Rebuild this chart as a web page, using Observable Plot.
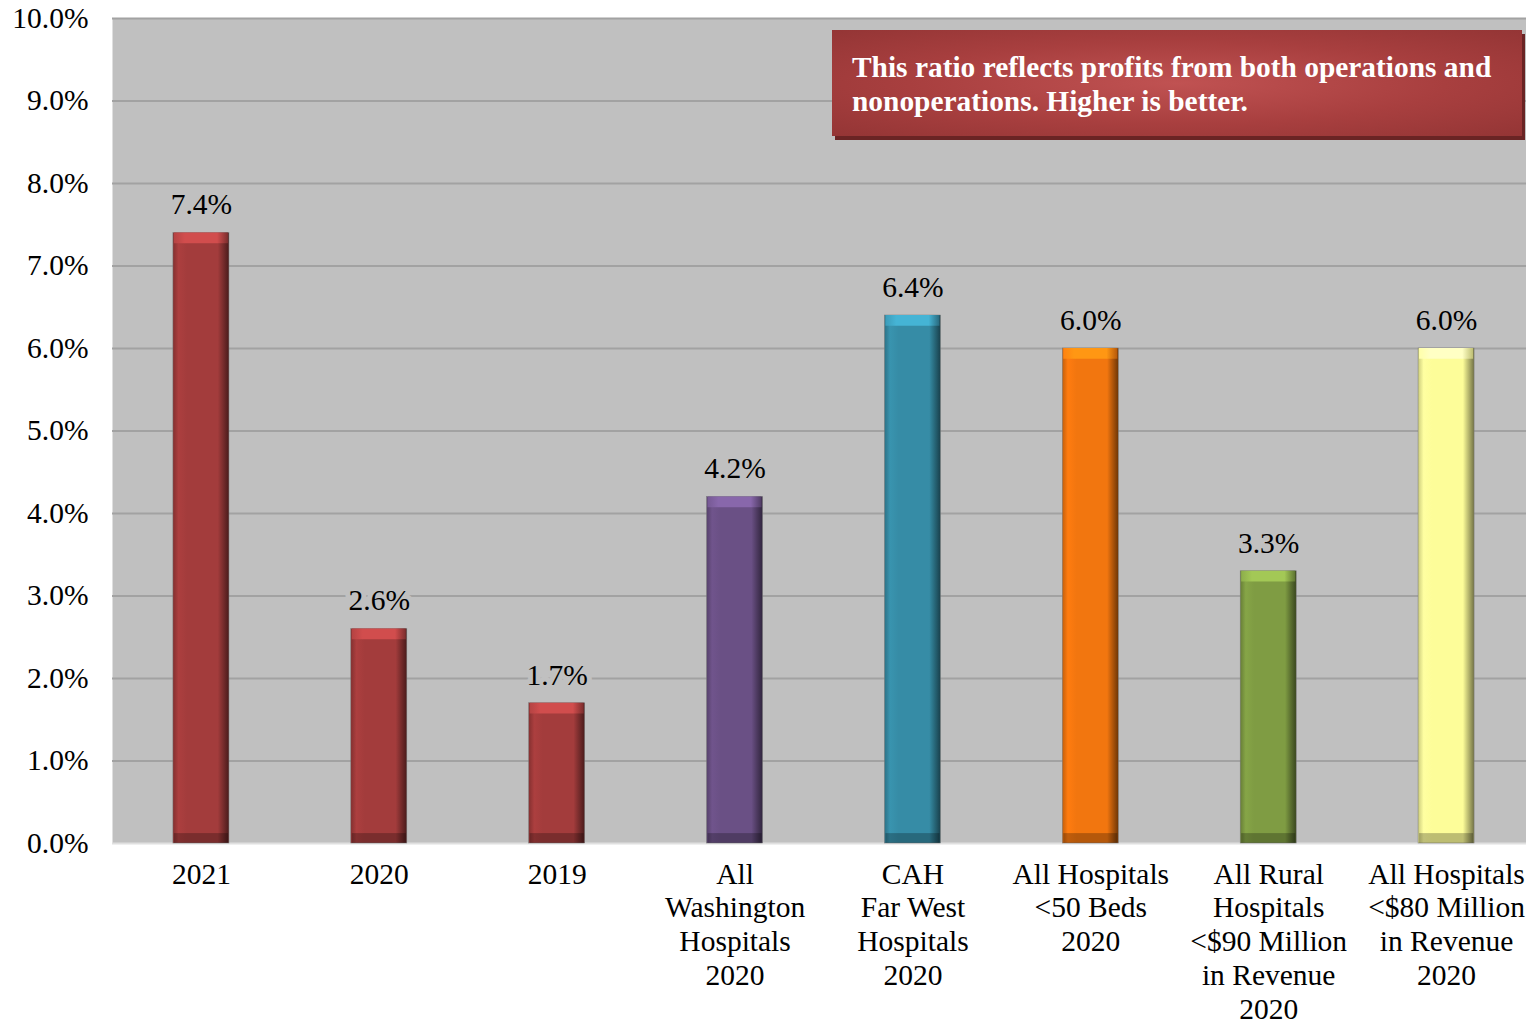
<!DOCTYPE html>
<html>
<head>
<meta charset="utf-8">
<script src="https://cdn.jsdelivr.net/npm/d3@7"></script>
<script src="https://cdn.jsdelivr.net/npm/@observablehq/plot@0.6"></script>
<style>
  html, body { margin: 0; padding: 0; background: #fff; }
  #wrap { position: relative; width: 1526px; height: 1024px; overflow: hidden; }
  #note {
    position: absolute; left: 832px; top: 30px; width: 690px; height: 106px;
    box-sizing: border-box; padding: 20px 0 0 20px;
    background: radial-gradient(ellipse at 50% 50%, #c05252 0%, #a83f3f 55%, #943535 100%);
    box-shadow: 3px 4px 0 #6a2424;
    color: #fff; font-family: "Liberation Serif", "Times New Roman", serif;
    font-weight: bold; font-size: 29.4px; line-height: 34px;
  }
</style>
</head>
<body>
<div id="wrap"></div>
<script>
const categories = [
  "2021", "2020", "2019",
  "All\nWashington\nHospitals\n2020",
  "CAH\nFar West\nHospitals\n2020",
  "All Hospitals\n<50 Beds\n2020",
  "All Rural\nHospitals\n<$90 Million\nin Revenue\n2020",
  "All Hospitals\n<$80 Million\nin Revenue\n2020"
];
const values = [0.074, 0.026, 0.017, 0.042, 0.064, 0.060, 0.033, 0.060];
const colors = ["#a33c3c", "#a33c3c", "#a33c3c", "#6a5085", "#368ca6", "#f2760f", "#7f9c43", "#fdfd99"];
const yTicks = [0, 0.01, 0.02, 0.03, 0.04, 0.05, 0.06, 0.07, 0.08, 0.09, 0.10];
const noteText = "This ratio reflects profits from both operations and nonoperations. Higher is better.";

const data = categories.map((c, i) => ({cat: c, value: values[i], color: colors[i], i}));
const pct = d3.format(".1%");
const FS = 29.5;

const chart = Plot.plot({
  width: 1526,
  height: 1024,
  marginLeft: 112,
  marginRight: 0,
  marginTop: 18,
  marginBottom: 181,
  style: {fontFamily: "Liberation Serif, Times New Roman, serif", fontSize: FS + "px", color: "#000", background: "transparent"},
  x: {domain: categories, range: [112, 1535], paddingInner: 0.685, paddingOuter: 0.3425, round: false, label: null},
  y: {domain: [0, 0.10], label: null},
  marks: [
    Plot.frame({fill: "#c0c0c0", stroke: null}),
    Plot.ruleY(yTicks.slice(1), {stroke: "#a2a2a2", strokeWidth: 2}),
    Plot.ruleY([0], {stroke: "#e0e0e0", strokeWidth: 2}),
    Plot.axisY({ticks: yTicks, tickFormat: pct, tickSize: 0, tickPadding: 24, fontSize: FS, label: null}),
    Plot.axisX({tickSize: 0, tickPadding: 16, fontSize: FS, lineHeight: 33.8 / FS, label: null}),
    Plot.barY(data, {x: "cat", y: "value", fill: d => `url(#g${d.i})`, stroke: "#7a7a7a", strokeWidth: 0.5}),
    Plot.barY(data, {x: "cat", y1: d => d.value - 0.0013, y2: "value", fill: d => `url(#t${d.i})`, insetLeft: 1, insetRight: 1}),
    Plot.barY(data, {x: "cat", y1: 0, y2: 0.0012, fill: "#000", fillOpacity: 0.25, insetLeft: 1, insetRight: 1}),
    Plot.text(data, {x: "cat", y: "value", text: d => pct(d.value), dy: -28, fontSize: FS, fill: "#000", stroke: "#c0c0c0", strokeWidth: 10, paintOrder: "stroke"})
  ]
});

// gradient definitions for the bar shading
const defs = d3.select(chart).insert("defs", ":first-child");
colors.forEach((c, i) => {
  const base = d3.color(c);
  const g = defs.append("linearGradient").attr("id", `g${i}`).attr("x1", 0).attr("x2", 1).attr("y1", 0).attr("y2", 0);
  [[0, base.darker(0.6)], [0.1, base.brighter(0.15)], [0.25, base], [0.8, base], [0.9, base.darker(0.9)], [1, base.darker(2.2)]]
    .forEach(([o, col]) => g.append("stop").attr("offset", o).attr("stop-color", col.formatHex()));
  const t = defs.append("linearGradient").attr("id", `t${i}`).attr("x1", 0).attr("x2", 1).attr("y1", 0).attr("y2", 0);
  [[0, base.brighter(0.3)], [0.2, base.brighter(0.7)], [0.8, base.brighter(0.7)], [1, base.darker(0.8)]]
    .forEach(([o, col]) => t.append("stop").attr("offset", o).attr("stop-color", col.formatHex()));
});

const wrap = document.getElementById("wrap");
wrap.appendChild(chart);
const note = document.createElement("div");
note.id = "note";
note.textContent = noteText;
wrap.appendChild(note);
</script>
</body>
</html>
